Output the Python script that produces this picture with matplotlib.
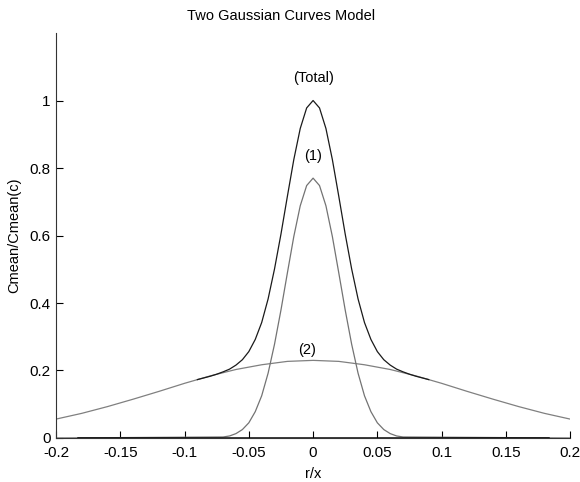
""" Two Gaussian curves model plot """

import matplotlib
matplotlib.use('Agg')
import matplotlib.pyplot as plt

# curve (1): narrow gaussian
x1 = [-0.2, -0.07, -0.065, -0.06, -0.055, -0.05, -0.045, -0.04, -0.035, -0.03,
      -0.025, -0.02, -0.015, -0.01, -0.005, 0.0, 0.005, 0.01, 0.015, 0.02,
      0.025, 0.03, 0.035, 0.04, 0.045, 0.05, 0.055, 0.06, 0.065, 0.07, 0.2]
y1 = [0.0, 0.003, 0.006, 0.013, 0.025, 0.045, 0.078, 0.125, 0.192, 0.278,
      0.379, 0.489, 0.597, 0.688, 0.748, 0.770, 0.748, 0.688, 0.597, 0.489,
      0.379, 0.278, 0.192, 0.125, 0.078, 0.045, 0.025, 0.013, 0.006, 0.003, 0.0]

# curve (2): broad gaussian
x2 = [-0.2, -0.18, -0.16, -0.14, -0.12, -0.1, -0.08, -0.06, -0.04, -0.02, 0.0,
      0.02, 0.04, 0.06, 0.08, 0.1, 0.12, 0.14, 0.16, 0.18, 0.2]
y2 = [0.056, 0.073, 0.093, 0.115, 0.138, 0.162, 0.184, 0.203, 0.217, 0.227, 0.230,
      0.227, 0.217, 0.203, 0.184, 0.162, 0.138, 0.115, 0.093, 0.073, 0.056]

# total curve
xt = [-0.09, -0.085, -0.08, -0.075, -0.07, -0.065, -0.06, -0.055, -0.05, -0.045,
      -0.04, -0.035, -0.03, -0.025, -0.02, -0.015, -0.01, -0.005, 0.0,
      0.005, 0.01, 0.015, 0.02, 0.025, 0.03, 0.035, 0.04, 0.045, 0.05,
      0.055, 0.06, 0.065, 0.07, 0.075, 0.08, 0.085, 0.09]
yt = [0.173, 0.178, 0.183, 0.189, 0.196, 0.204, 0.216, 0.232, 0.256, 0.292,
      0.342, 0.412, 0.501, 0.604, 0.716, 0.825, 0.917, 0.978, 1.000,
      0.978, 0.917, 0.825, 0.716, 0.604, 0.501, 0.412, 0.342, 0.292, 0.256,
      0.232, 0.216, 0.204, 0.196, 0.189, 0.183, 0.178, 0.173]

# flat baseline
xb = [-0.183, 0.183]
yb = [0.0, 0.0]

plt.rcParams['font.family'] = ['Liberation Sans', 'DejaVu Sans']
plt.rcParams['font.size'] = 10.5
plt.rcParams['axes.unicode_minus'] = False

fig = plt.figure(figsize=(5.8, 4.82), dpi=100)
ax = fig.add_axes([0.0966, 0.0913, 0.8864, 0.8402])

ax.plot(x2, y2, color='0.5', linewidth=0.9)
ax.plot(x1, y1, color='0.45', linewidth=0.9)
ax.plot(xt, yt, color='0.1', linewidth=0.9)
ax.plot(xb, yb, color='black', linewidth=1.8)

ax.text(0.0, 1.045, '(Total)', ha='center', va='bottom')
ax.text(0.0, 0.815, '(1)', ha='center', va='bottom')
ax.text(-0.005, 0.24, '(2)', ha='center', va='bottom')

ax.set_xlim(-0.2, 0.2)
ax.set_ylim(0, 1.2)
ax.set_xticks([-0.2, -0.15, -0.1, -0.05, 0, 0.05, 0.1, 0.15, 0.2])
ax.set_xticklabels(['-0.2', '-0.15', '-0.1', '-0.05', '0', '0.05', '0.1', '0.15', '0.2'])
ax.set_yticks([0, 0.2, 0.4, 0.6, 0.8, 1])
ax.set_yticklabels(['0', '0.2', '0.4', '0.6', '0.8', '1'])
ax.tick_params(direction='in', length=5, width=0.8, labelsize=11)
ax.tick_params(axis='x', pad=6)
ax.tick_params(axis='y', pad=4)

ax.spines['top'].set_visible(False)
ax.spines['right'].set_visible(False)
ax.spines['left'].set_color('0.2')
ax.spines['bottom'].set_color('0.2')

ax.set_xlabel('r/x', labelpad=5)
ax.set_ylabel('Cmean/Cmean(c)', labelpad=6)
fig.text(0.484, 0.967, 'Two Gaussian Curves Model', ha='center', va='center',
         family=['Liberation Sans Narrow', 'Liberation Sans'], fontsize=10.5)

fig.savefig('out.png', dpi=100)
